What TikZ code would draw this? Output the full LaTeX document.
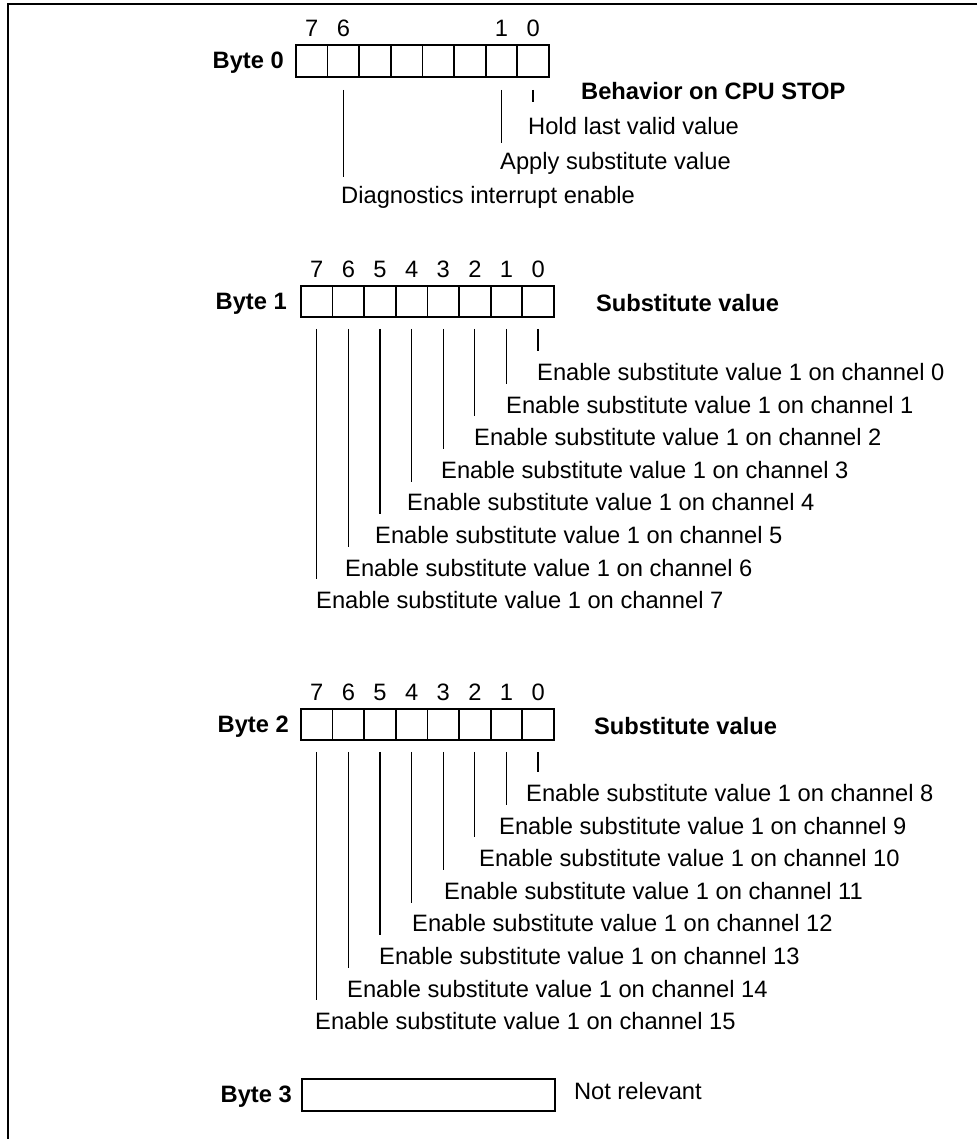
\documentclass[tikz,border=0pt]{standalone}
\usepackage{fontspec}
\setmainfont{Liberation Sans}
\usetikzlibrary{positioning}

\begin{document}
\begin{tikzpicture}[
  x=1pt, y=-1pt,
  every node/.style={inner sep=0pt, font=\fontsize{23.7}{28}\selectfont},
  cell/.style={draw, line width=1.8pt, minimum width=31.625pt, minimum height=31pt, anchor=north west},
  bytelabel/.style={font=\fontsize{23.7}{28}\selectfont\bfseries, yshift=-2pt},
  leader/.style={line width=1.2pt},
  desc/.style={anchor=base west},
  ]

  % Frame
  \useasboundingbox (0,0) rectangle (977,1139);
  \draw[line width=2pt] (977,4) -- (8,4) -- (8,1139);

  % Byte 0
  \foreach \b in {0,...,7}
    \node[cell, minimum height=32pt] (c0-\b) at ({295+(7-\b)*31.625},44) {};
  \node[bytelabel, left=11pt of c0-7] (byte0) {Byte 0};
  \foreach \b in {7,6,1,0}
    \node[above=7pt of c0-\b] (n0-\b) {\b};
  \node[bytelabel, desc, yshift=0pt] (stop) at (581,97.5) {Behavior on CPU STOP};
  \node[desc] (hold) at (528,135) {Hold last valid value};
  \node[desc] (apply) at (500,170) {Apply substitute value};
  \node[desc] (diag) at (341,204) {Diagnostics interrupt enable};
  \draw[leader] ([yshift=-12pt]c0-0.south) -- ([yshift=16pt]c0-0.south |- hold.north);
  \draw[leader] ([yshift=-12pt]c0-1.south) -- ([yshift=10pt]c0-1.south |- apply.north);
  \draw[leader] ([yshift=-12pt]c0-6.south) -- ([yshift=10pt]c0-6.south |- diag.north);

  % Byte 1
  \foreach \b in {0,...,7}
    \node[cell] (c1-\b) at ({300+(7-\b)*31.625},285) {};
  \node[bytelabel, left=13pt of c1-7] (byte1) {Byte 1};
  \foreach \b in {0,...,7}
    \node[above=7pt of c1-\b] (n1-\b) {\b};
  \node[bytelabel, right=41pt of c1-0, yshift=0pt] (subst1) {Substitute value};
  \foreach \b/\tx in {0/537,1/506,2/474,3/441,4/407,5/375,6/345,7/316} {
    \node[desc] (t1-\b) at (\tx,{380.5+32.6*\b}) {Enable substitute value 1 on channel \b};
    \draw[leader] ([yshift=-11pt]c1-\b.south) -- ([yshift=12pt]c1-\b.south |- t1-\b.north);
  }

  % Byte 2
  \foreach \b in {0,...,7}
    \node[cell] (c2-\b) at ({300+(7-\b)*31.625},708) {};
  \node[bytelabel, left=11pt of c2-7] (byte2) {Byte 2};
  \foreach \b in {0,...,7}
    \node[above=7pt of c2-\b] (n2-\b) {\b};
  \node[bytelabel, right=39pt of c2-0, yshift=0pt] (subst2) {Substitute value};
  \foreach \b/\ch/\tx in {0/8/526,1/9/499,2/10/479,3/11/444,4/12/412,5/13/379,6/14/347,7/15/315} {
    \node[desc] (t2-\b) at (\tx,{801.5+32.6*\b}) {Enable substitute value 1 on channel \ch};
    \draw[leader] ([yshift=-11pt]c2-\b.south) -- ([yshift=12pt]c2-\b.south |- t2-\b.north);
  }

  % Byte 3
  \node[cell, minimum width=253pt, minimum height=32pt] (c3) at (301,1078) {};
  \node[bytelabel, left=9pt of c3] (byte3) {Byte 3};
  \node[right=18pt of c3, yshift=4pt] (norel) {Not relevant};

\end{tikzpicture}
\end{document}
